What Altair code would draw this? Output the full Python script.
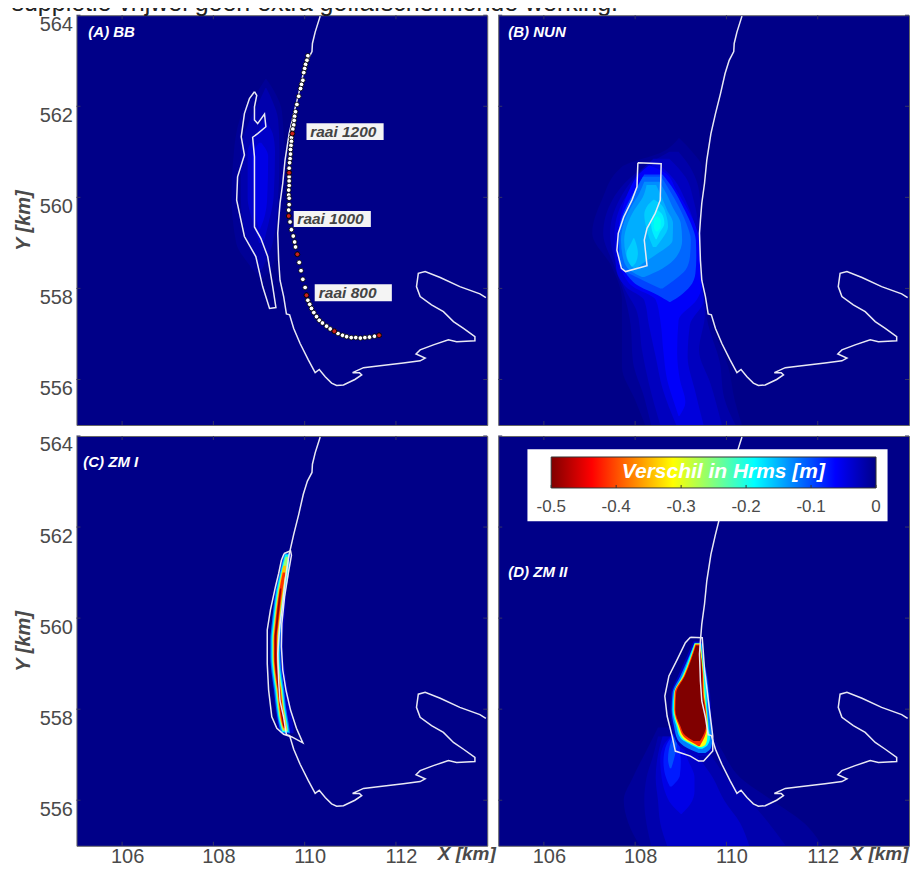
import altair as alt
import pandas as pd

NAVY = "#000088"
FONT = "Liberation Sans"
GREY = "#4a4a4a"
LINE = "#e8e8f4"

X_TICKS = [106, 108, 110, 112]
Y_TICKS = [556, 558, 560, 562, 564]

coast_x = [110.34,110.23,110.17,110.16,110.06,109.97,109.87,109.76,109.66,109.57,109.52,109.46,109.43,109.41,109.43,109.46,109.54,109.60,109.67,109.76,109.90,110.08,110.23,110.32,110.45,110.59,110.70,110.85,111.10,111.25,111.20,111.05,111.29,111.65,112.16,112.53,112.64,112.44,112.53,112.82,113.15,113.33,113.73,113.73,113.48,113.26,113.04,112.78,112.53,112.45,112.49,112.64,112.97,113.40,113.84,113.97]
coast_y = [563.98,563.63,563.38,563.20,563.01,562.72,562.28,561.84,561.40,560.82,560.31,559.87,559.50,559.21,558.62,558.18,557.82,557.44,557.42,557.12,556.79,556.43,556.15,556.22,556.06,555.92,555.87,555.88,556.00,556.10,556.15,556.15,556.26,556.30,556.36,556.41,556.47,556.56,556.65,556.76,556.87,556.83,556.85,556.94,557.12,557.27,557.49,557.64,557.82,558.04,558.33,558.37,558.24,558.04,557.88,557.80]

bar_a_x = [108.90,108.95,108.90,108.90,108.97,109.12,109.15,108.97,108.86,108.90,108.90,109.04,109.19,109.30,109.37,109.23,109.08,108.93,108.68,108.51,108.53,108.68,108.61,108.68,108.79,108.90]
bar_a_y = [562.32,562.24,561.99,561.70,561.62,561.83,561.55,561.40,561.32,560.89,559.35,559.10,558.70,558.04,557.58,557.56,558.04,558.70,559.14,559.94,560.45,560.93,561.33,561.84,562.17,562.32]
bar_b_x = [108.06,108.57,108.55,108.44,108.26,108.20,108.26,107.79,107.70,107.60,107.63,107.75,107.93,108.04,108.06]
bar_b_y = [560.76,560.74,559.94,559.65,559.32,559.06,558.50,558.37,558.44,558.84,559.21,559.57,559.94,560.23,560.76]
bar_c_x = [109.55,109.69,109.71,109.64,109.56,109.50,109.49,109.52,109.59,109.69,109.82,109.96,109.72,109.54,109.39,109.28,109.21,109.18,109.18,109.25,109.36,109.43,109.49,109.55]
bar_c_y = [561.42,561.48,561.38,560.98,560.47,559.88,559.37,558.86,558.42,557.98,557.58,557.26,557.39,557.45,557.58,557.83,558.42,559.00,559.74,560.18,560.69,560.98,561.27,561.42]
bar_d_x = [109.21,109.47,109.52,109.61,109.70,109.70,109.50,109.39,109.21,108.88,108.81,108.70,108.65,108.74,108.92,109.10,109.21]
bar_d_y = [559.58,559.57,558.87,558.14,557.41,557.08,556.86,556.86,556.97,557.08,557.41,557.85,558.29,558.73,559.09,559.46,559.58]

raai_x = [110.07,110.05,110.02,110.00,109.98,109.96,109.93,109.91,109.87,109.83,109.80,109.78,109.77,109.76,109.74,109.73,109.71,109.71,109.70,109.69,109.69,109.68,109.67,109.66,109.66,109.66,109.66,109.66,109.65,109.65,109.66,109.66,109.65,109.65,109.68,109.71,109.75,109.78,109.80,109.84,109.88,109.92,109.96,110.01,110.04,110.07,110.11,110.15,110.20,110.26,110.32,110.39,110.48,110.56,110.65,110.73,110.83,110.92,111.02,111.12,111.22,111.32,111.42,111.53,111.63]
raai_y = [563.11,563.01,562.92,562.83,562.74,562.57,562.48,562.39,562.22,562.04,561.88,561.78,561.69,561.59,561.50,561.40,561.31,561.23,561.14,561.05,560.95,560.85,560.76,560.64,560.54,560.45,560.36,560.26,560.16,560.05,559.98,559.84,559.72,559.59,559.46,559.29,559.15,559.02,558.91,558.75,558.57,558.39,558.20,558.02,557.85,557.74,557.65,557.56,557.47,557.38,557.30,557.24,557.17,557.11,557.06,557.01,556.97,556.94,556.92,556.92,556.91,556.92,556.93,556.95,556.97]
raai_red_x = [109.73,109.66,109.65,109.84,110.04,110.65,111.63]
raai_red_y = [561.40,560.54,559.59,558.75,557.85,557.06,556.97]

raai_labels = ["raai 1200", "raai 1000", "raai 800"]
raai_box_x1 = [110.04, 109.76, 110.22]
raai_box_x2 = [111.73, 111.45, 111.91]
raai_box_y1 = [561.63, 559.70, 558.09]
raai_box_y2 = [561.26, 559.35, 557.72]
raai_text_x = [110.12, 109.84, 110.31]
raai_text_y = [561.44, 559.53, 557.90]

# filled contour bands: level -> rows of (y, x_left, x_right)
heat_a = {
    -0.008: [(562.6,109.14,109.16),(562.3,108.95,109.35),(561.9,108.65,109.5),(561,108.45,109.55),(560,108.4,109.5),(559,108.5,109.4),(558.5,108.8,109.3),(558.2,109.05,109.07)],
    -0.02: [(562.4,109.14,109.16),(562.1,109.0,109.3),(561.7,108.8,109.42),(561,108.6,109.45),(560,108.6,109.42),(559,108.75,109.3),(558.6,108.95,109.15),(558.4,109.04,109.06)],
    -0.035: [(561.7,109.1,109.12),(561.4,108.95,109.3),(561,108.75,109.35),(560,108.75,109.32),(559.4,108.88,109.2),(559,109.0,109.1)],
    -0.05: [(561.2,109.0,109.05),(560.9,108.85,109.2),(560,108.9,109.18),(559.5,108.95,109.1),(559.3,109.0,109.02)],
}
heat_b = {
    -0.008: [(561.3,108.95,108.97),(561.0,108.6,109.25),(560.67,107.71,109.46),(559.94,107.27,109.46),(559.21,107.06,109.43),(558.47,107.49,109.43),(557.74,107.71,109.53),(557.01,107.71,109.75),(556.28,107.71,110.04),(555.55,108.0,110.18),(555.0,108.22,110.34)],
    -0.018: [(561.0,108.75,108.95),(560.67,108.2,109.2),(559.94,107.5,109.42),(559.21,107.3,109.43),(558.47,107.55,109.43),(557.9,107.75,109.5),(557.2,107.9,109.6),(556.4,107.95,109.85),(555.6,108.2,109.95),(555.0,108.35,110.2)],
    -0.03: [(560.85,108.4,108.75),(560.45,108.0,109.1),(559.94,107.65,109.28),(559.21,107.45,109.4),(558.47,107.6,109.43),(558.03,107.75,109.47),(557.45,108.05,109.53),(556.64,108.15,109.4),(555.91,108.3,109.65),(555.0,108.55,109.9)],
    -0.045: [(560.75,108.4,108.5),(560.4,108.15,108.85),(559.94,107.75,109.1),(559.21,107.55,109.35),(558.47,107.58,109.42),(558.03,107.8,109.46),(557.74,108.2,109.5),(557.2,108.3,109.2),(556.5,108.45,109.15),(555.8,108.6,109.3),(555.0,108.9,109.5)],
    -0.06: [(560.7,108.30,108.32),(560.52,108.09,108.68),(560.16,107.87,108.90),(559.79,107.73,109.12),(559.43,107.65,109.3),(559.06,107.62,109.4),(558.69,107.62,109.42),(558.33,107.73,109.42),(558.04,107.95,109.46),(557.75,108.45,109.35),(557.3,108.55,108.95),(556.6,108.62,108.92),(556.0,108.7,108.98),(555.5,108.85,109.1),(555.2,108.95,108.97)],
    -0.075: [(560.5,108.2,108.6),(560.16,108.0,108.85),(559.79,107.8,109.05),(559.43,107.67,109.22),(559.06,107.63,109.33),(558.69,107.64,109.34),(558.33,107.8,109.32),(558.04,108.1,109.2),(557.85,108.5,109.0),(557.7,108.75,108.77)],
    -0.09: [(560.45,108.17,108.57),(560.16,108.02,108.75),(559.79,107.84,108.96),(559.43,107.69,109.12),(559.06,107.65,109.22),(558.69,107.65,109.2),(558.40,107.76,109.1),(558.22,108.09,108.9),(558.0,108.55,108.6)],
    -0.11: [(560.34,108.20,108.53),(560.09,108.09,108.68),(559.79,107.91,108.82),(559.43,107.75,109.0),(559.06,107.69,109.03),(558.69,107.73,108.9),(558.44,107.84,108.6),(558.25,108.15,108.2)],
    -0.13: [(560.27,108.25,108.46),(560.01,108.17,108.58),(559.72,107.98,108.7),(559.43,107.84,108.83),(559.06,107.76,108.82),(558.77,107.79,108.5),(558.55,107.87,108.17),(558.42,108.0,108.02)],
    -0.15: [(559.95,108.4,108.42),(559.83,108.28,108.58),(559.61,108.20,108.68),(559.35,108.24,108.72),(559.10,108.31,108.6),(558.91,108.39,108.46)],
    -0.1501: [(559.1,107.96,107.98),(558.99,107.91,108.02),(558.77,107.81,108.06),(558.58,107.86,108.02),(558.48,107.92,107.94)],
    -0.175: [(559.72,108.47,108.49),(559.61,108.39,108.6),(559.43,108.35,108.64),(559.21,108.39,108.53),(559.08,108.45,108.47)],
    -0.2: [(559.58,108.46,108.5),(559.5,108.41,108.56),(559.35,108.41,108.56),(559.25,108.46,108.48)],
}
heat_c = {
    -0.03: [(561.42,109.53,109.70),(560.98,109.44,109.66),(560.62,109.35,109.60),(560.25,109.31,109.58),(559.88,109.28,109.55),(559.52,109.25,109.52),(559.15,109.24,109.53),(558.78,109.27,109.58),(558.42,109.31,109.63),(558.05,109.35,109.68),(557.68,109.40,109.74),(557.47,109.45,109.76)],
    -0.10: [(561.42,109.55,109.67),(560.98,109.45,109.65),(560.62,109.37,109.59),(560.25,109.32,109.54),(559.88,109.28,109.50),(559.52,109.25,109.47),(559.15,109.25,109.47),(558.78,109.28,109.50),(558.42,109.33,109.55),(558.05,109.37,109.59),(557.68,109.43,109.65),(557.47,109.48,109.68)],
    -0.19: [(561.40,109.57,109.66),(560.98,109.47,109.63),(560.62,109.39,109.57),(560.25,109.345,109.515),(559.88,109.305,109.475),(559.52,109.275,109.445),(559.15,109.275,109.445),(558.78,109.305,109.475),(558.42,109.355,109.525),(558.05,109.395,109.565),(557.68,109.455,109.625),(557.50,109.51,109.65)],
    -0.27: [(561.35,109.58,109.64),(560.98,109.49,109.61),(560.62,109.415,109.545),(560.25,109.365,109.495),(559.88,109.325,109.455),(559.52,109.295,109.425),(559.15,109.295,109.425),(558.78,109.325,109.455),(558.42,109.375,109.505),(558.05,109.415,109.545),(557.68,109.475,109.605),(557.52,109.52,109.63)],
    -0.35: [(561.15,109.53,109.60),(560.62,109.43,109.53),(560.25,109.38,109.48),(559.88,109.34,109.44),(559.52,109.31,109.41),(559.15,109.31,109.41),(558.78,109.34,109.44),(558.42,109.39,109.49),(558.05,109.43,109.53),(557.68,109.49,109.59),(557.55,109.53,109.61)],
    -0.43: [(561.0,109.52,109.58),(560.62,109.445,109.515),(560.25,109.395,109.465),(559.88,109.355,109.425),(559.52,109.325,109.395),(559.15,109.325,109.395),(558.78,109.355,109.425),(558.42,109.405,109.475),(558.05,109.445,109.515),(557.68,109.505,109.575),(557.58,109.535,109.59)],
    -0.49: [(560.65,109.46,109.49),(560.25,109.41,109.45),(559.88,109.37,109.41),(559.52,109.34,109.38),(559.15,109.34,109.38),(558.78,109.37,109.41),(558.42,109.42,109.46),(558.05,109.46,109.50),(557.68,109.52,109.56),(557.62,109.53,109.55)],
}
glow_d = {
    -0.01: [(557.6,108.5,109.6),(557.1,108.25,109.9),(556.5,107.95,110.3),(556.0,107.75,111.0),(555.5,107.85,111.7),(555.0,108.1,112.1)],
    -0.02: [(557.4,108.5,109.3),(557.0,108.4,109.65),(556.5,108.25,110.0),(556.0,108.2,110.5),(555.0,108.35,111.3)],
    -0.035: [(557.4,108.6,109.1),(557.0,108.5,109.35),(556.5,108.45,109.7),(556.0,108.5,109.95),(555.5,108.55,110.3),(555.0,108.7,110.5)],
    -0.05: [(557.45,108.82,109.0),(557.2,108.62,109.05),(556.9,108.55,109.15),(556.5,108.58,109.3),(556.2,108.65,109.3),(555.9,108.8,109.2),(555.7,109.0,109.02)],
    -0.065: [(557.45,108.84,108.98),(557.15,108.66,108.98),(556.85,108.62,109.0),(556.55,108.66,108.98),(556.3,108.76,108.8)],
    -0.08: [(557.45,108.86,108.95),(557.12,108.74,108.9),(556.9,108.72,108.85),(556.7,108.76,108.79)],
}
core_d = {
    -0.031: [(559.49,109.28,109.47),(559.09,109.10,109.51),(558.73,108.94,109.59),(558.36,108.79,109.64),(557.99,108.77,109.66),(557.63,108.81,109.69),(557.33,108.88,109.70),(557.11,109.07,109.69),(556.97,109.36,109.58)],
    -0.10: [(559.46,109.30,109.45),(559.09,109.15,109.50),(558.73,108.99,109.57),(558.36,108.82,109.61),(557.99,108.80,109.64),(557.63,108.85,109.67),(557.33,108.93,109.69),(557.15,109.14,109.66),(557.04,109.39,109.54)],
    -0.19: [(559.44,109.30,109.45),(559.09,109.17,109.48),(558.73,109.03,109.53),(558.36,108.85,109.56),(557.99,108.82,109.58),(557.63,108.90,109.61),(557.37,108.99,109.64),(557.20,109.25,109.58),(557.13,109.39,109.47)],
    -0.31: [(559.44,109.31,109.43),(559.09,109.20,109.47),(558.73,109.05,109.50),(558.36,108.86,109.52),(557.99,108.85,109.56),(557.63,108.93,109.59),(557.37,109.03,109.58),(557.22,109.28,109.54),(557.17,109.41,109.45)],
    -0.43: [(559.42,109.32,109.42),(559.09,109.21,109.45),(558.73,109.07,109.49),(558.36,108.87,109.50),(557.99,108.86,109.55),(557.63,108.96,109.57),(557.39,109.07,109.52),(557.25,109.28,109.45),(557.19,109.38,109.42)],
    -0.5: [(559.40,109.33,109.40),(559.09,109.23,109.45),(558.73,109.09,109.47),(558.36,108.90,109.48),(557.99,108.88,109.53),(557.63,108.99,109.55),(557.42,109.10,109.49),(557.30,109.28,109.42)],
}

panel_labels = {"A": ("(A) BB", 105.26, 563.63), "B": ("(B) NUN", 105.22, 563.63),
                "C": ("(C) ZM I", 105.15, 563.43), "D": ("(D) ZM II", 105.22, 561.01)}

page_title = "suppletie vrijwel geen extra golfafschermende werking."

cbar_ticks = [-0.5, -0.4, -0.3, -0.2, -0.1, 0]
cbar_labels = ["-0.5", "-0.4", "-0.3", "-0.2", "-0.1", "0"]
jet_domain = [-0.5, -0.4375, -0.3125, -0.1875, -0.0625, 0]
jet_colors = ["#800000", "#ff0000", "#ffff00", "#00ffff", "#0000ff", NAVY]

xs = alt.Scale(domain=[105, 114], nice=False, zero=False)
ys = alt.Scale(domain=[555, 564], nice=False, zero=False)
jet = alt.Scale(domain=jet_domain, range=jet_colors)


def rows(bands):
    out = []
    for lev, pts in bands.items():
        for y, a, b in pts:
            out.append({"level": lev, "y": y, "a": a, "b": b})
    return pd.DataFrame(out)


def path(px, py):
    return pd.DataFrame({"x": px, "y": py, "i": range(len(px))})


def panel(key, heat, bar, x_title_at, ylabels, extra_top=(), extra_after=()):
    title_x = alt.Axis(values=X_TICKS, ticks=False, domain=False, grid=False, labelOffset=5,
                       labelPadding=1, labelFontSize=20, labelFont=FONT, labelColor=GREY,
                       title="X [km]", titleFont=FONT, titleFontSize=19, titleFontStyle="italic",
                       titleFontWeight="bold", titleColor=GREY, titleX=x_title_at, titleY=8,
                       titleBaseline="middle", titleAlign="center") if x_title_at else None
    title_y = alt.Axis(values=Y_TICKS, ticks=False, domain=False, grid=False, labelOffset=9,
                       labelPadding=4, labelFontSize=20, labelFont=FONT, labelColor=GREY, format="d",
                       title="Y [km]", titleFont=FONT, titleFontSize=20, titleFontStyle="italic",
                       titleFontWeight="bold", titleColor=GREY, titleX=-43) if ylabels else None
    X = lambda f: alt.X(f, scale=xs, axis=title_x)
    Y = lambda f: alt.Y(f, scale=ys, axis=title_y)
    layers = []
    for bands in heat:
        layers.append(alt.Chart(rows(bands)).mark_area(orient="horizontal", interpolate="monotone").encode(
            x=X("a:Q"), x2="b:Q", y=Y("y:Q"), detail="level:N",
            color=alt.Color("level:Q", scale=jet, legend=None)))
    xt = pd.DataFrame({"t": X_TICKS})
    yt = pd.DataFrame({"t": Y_TICKS})
    tick = "#333366"
    for a, b in ((0, 4), (410, 406)):
        layers.append(alt.Chart(xt).mark_rule(color=tick).encode(x=X("t:Q"), y=alt.value(a), y2=alt.value(b)))
    for a, b in ((0, 4), (411, 407)):
        layers.append(alt.Chart(yt).mark_rule(color=tick).encode(y=Y("t:Q"), x=alt.value(a), x2=alt.value(b)))
    layers.append(alt.Chart(path(coast_x, coast_y)).mark_line(color=LINE, strokeWidth=1.5).encode(
        x=X("x:Q"), y=Y("y:Q"), order="i:Q"))
    layers.append(alt.Chart(path(*bar)).mark_line(color=LINE, strokeWidth=1.5).encode(
        x=X("x:Q"), y=Y("y:Q"), order="i:Q"))
    for maker in extra_top:
        layers.append(maker(X, Y))
    text, lx, ly = panel_labels[key]
    layers.append(alt.Chart(pd.DataFrame({"x": [lx], "y": [ly], "t": [text]})).mark_text(
        align="left", baseline="middle", font=FONT, fontSize=15, fontStyle="italic", fontWeight="bold",
        color="white").encode(x=X("x:Q"), y=Y("y:Q"), text="t:N"))
    return alt.layer(*layers, *extra_after)


def raai_boxes(X, Y):
    d = pd.DataFrame({"a": raai_box_x1, "b": raai_box_x2, "c": raai_box_y1, "e": raai_box_y2})
    return alt.Chart(d).mark_rect(color="#f4f4f4").encode(x=X("a:Q"), x2="b:Q", y=Y("c:Q"), y2="e:Q")


def raai_text(X, Y):
    d = pd.DataFrame({"x": raai_text_x, "y": raai_text_y, "t": raai_labels})
    return alt.Chart(d).mark_text(align="left", baseline="middle", font=FONT, fontSize=15.5, fontStyle="italic",
                                  fontWeight="bold", color="#444444").encode(x=X("x:Q"), y=Y("y:Q"), text="t:N")


def raai_dots(X, Y):
    return alt.Chart(path(raai_x, raai_y)).mark_point(filled=True, fill="white", stroke="black", strokeWidth=0.8,
                                                      size=22, opacity=1).encode(x=X("x:Q"), y=Y("y:Q"))


def raai_reds(X, Y):
    return alt.Chart(path(raai_red_x, raai_red_y)).mark_point(filled=True, fill="#c8201c", stroke="black",
                                                              strokeWidth=0.8, size=22, opacity=1).encode(
        x=X("x:Q"), y=Y("y:Q"))


def page_text(X, Y):
    return alt.Chart(pd.DataFrame({"t": [page_title]})).mark_text(
        align="left", baseline="alphabetic", font=FONT, fontSize=25, color="#222222").encode(
        x=alt.value(-65), y=alt.value(-4), text="t:N")


def white_box(X, Y):
    d = pd.DataFrame({"a": [105.64], "b": [113.53], "c": [563.71], "e": [562.13]})
    return alt.Chart(d).mark_rect(color="white").encode(x=X("a:Q"), x2="b:Q", y=Y("c:Q"), y2="e:Q")


# colorbar with a scale of its own, in Hrms metres
cb_scale = alt.Scale(domain=[-0.5, 0], range=[53, 378], nice=False, zero=False)
CX = lambda f: alt.X(f, scale=cb_scale, axis=None)
stops = [alt.GradientStop(color=c, offset=(v + 0.5) / 0.5) for v, c in zip(jet_domain, jet_colors)]
gradient = alt.LinearGradient(gradient="linear", stops=stops, x1=0, x2=1, y1=0, y2=0)
cb_rect = alt.Chart(pd.DataFrame({"a": [-0.5], "b": [0]})).mark_rect(fill=gradient, stroke="#333333", strokeWidth=1).encode(
    x=CX("a:Q"), x2="b:Q", y=alt.value(21), y2=alt.value(52))
cb_df = pd.DataFrame({"v": cbar_ticks, "t": cbar_labels})
cb_t1 = alt.Chart(cb_df).mark_rule(color="#333333").encode(x=CX("v:Q"), y=alt.value(52), y2=alt.value(49))
cb_lab = alt.Chart(cb_df).mark_text(font=FONT, fontSize=17, color=GREY, baseline="middle", align="center").encode(
    x=CX("v:Q"), y=alt.value(71), text="t:N")
cb_title = alt.Chart(pd.DataFrame({"v": [-0.235], "t": ["Verschil in Hrms [m]"]})).mark_text(
    font=FONT, fontSize=21, fontStyle="italic", fontWeight="bold", color="white", baseline="middle", align="center").encode(
    x=CX("v:Q"), y=alt.value(36), text="t:N")
cb_layer = alt.layer(cb_rect, cb_t1, cb_lab, cb_title)

size = dict(width=411, height=410)
A = panel("A", [heat_a], (bar_a_x, bar_a_y), None, True,
          extra_top=(raai_boxes, raai_text, raai_dots, raai_reds, page_text)).properties(**size)
B = panel("B", [heat_b], (bar_b_x, bar_b_y), None, False).properties(**size)
C = panel("C", [heat_c], (bar_c_x, bar_c_y), 390, True).properties(**size)
Dmain = panel("D", [glow_d, core_d], (bar_d_x, bar_d_y), 381, False, extra_top=(white_box,))
D = alt.layer(Dmain, cb_layer).resolve_scale(x="independent").properties(**size)

chart = alt.concat(A, B, C, D, columns=2, spacing={"row": 11, "column": 11}, bounds="flush").configure_view(
    fill=NAVY, stroke="#666666").properties(
    padding={"left": 2.5, "top": -18, "right": 0, "bottom": -5}, background="white")

chart.save("out.html", embed_options={"renderer": "svg", "actions": False})
